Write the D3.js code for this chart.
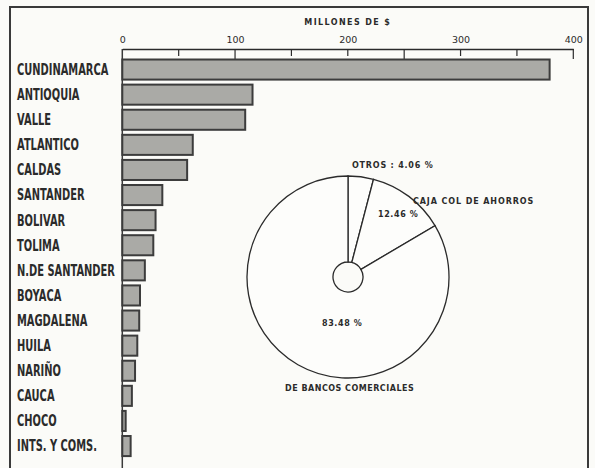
<!DOCTYPE html>
<html>
<head>
<meta charset="utf-8">
<script src="https://cdn.jsdelivr.net/npm/d3@7"></script>
<style>
  html, body { margin: 0; padding: 0; background: #fbfbf8; }
  svg { display: block; }
</style>
</head>
<body>
<svg id="chart" width="595" height="468"></svg>
<script>
// ---- data ----
const categories = ["CUNDINAMARCA", "ANTIOQUIA", "VALLE", "ATLANTICO", "CALDAS", "SANTANDER",
  "BOLIVAR", "TOLIMA", "N.DE SANTANDER", "BOYACA", "MAGDALENA", "HUILA", "NARIÑO",
  "CAUCA", "CHOCO", "INTS. Y COMS."];
const values = [379, 115.5, 109, 62.5, 57.5, 35.5, 29.5, 27.5, 20, 15.7, 15, 13.3, 11.3, 8.5, 3, 7.4];
const tickValues = [0, 100, 200, 300, 400];
const minorTicks = [50, 150, 200, 300, 350];
const majorTicks = [100, 250, 400];
const axisTitle = "MILLONES DE $";

const pieNames = ["OTROS", "CAJA COL DE AHORROS", "DE BANCOS COMERCIALES"];
const pieValues = [4.06, 12.46, 83.48];

// ---- drawing ----
const svg = d3.select("#chart");
const ink = "#2b2b2b";

// frame
svg.append("path")
  .attr("d", "M10,472 L10,7 L588,7 L588,472")
  .attr("fill", "none").attr("stroke", "#3a3a3a").attr("stroke-width", 2);

const x = d3.scaleLinear().domain([0, 400]).range([122.3, 573.3]);
const y = d3.scaleBand().domain(categories).range([57, 458.6]).paddingInner(0.2).paddingOuter(0.1);

// axis title
svg.append("text")
  .attr("x", x(200)).attr("y", 25)
  .attr("text-anchor", "middle")
  .attr("font-family", "DejaVu Sans, sans-serif")
  .attr("font-weight", "bold")
  .attr("font-size", 8)
  .attr("letter-spacing", 1.4)
  .attr("fill", ink)
  .text(axisTitle);

// top axis
const axis = d3.axisTop(x).tickValues(tickValues).tickSize(0).tickPadding(6).tickFormat(d3.format("d"));
const gAxis = svg.append("g").attr("transform", "translate(0,49)").call(axis);
gAxis.select(".domain").attr("stroke", ink).attr("stroke-width", 1.3);
gAxis.selectAll("text")
  .attr("font-family", "DejaVu Sans, sans-serif")
  .attr("font-size", 9.5)
  .attr("fill", ink);

// tick marks (downward)
svg.append("g").selectAll("line").data(minorTicks).join("line")
  .attr("x1", d => x(d)).attr("x2", d => x(d))
  .attr("y1", 49).attr("y2", 56)
  .attr("stroke", ink).attr("stroke-width", 1.2);
svg.append("g").selectAll("line").data(majorTicks).join("line")
  .attr("x1", d => x(d)).attr("x2", d => x(d))
  .attr("y1", 49).attr("y2", 59)
  .attr("stroke", ink).attr("stroke-width", 1.2);

// vertical zero line
svg.append("line")
  .attr("x1", x(0)).attr("x2", x(0))
  .attr("y1", 49).attr("y2", 470)
  .attr("stroke", "#3a3a3a").attr("stroke-width", 1.5);

// bars
svg.append("g").selectAll("rect").data(values).join("rect")
  .attr("x", x(0))
  .attr("y", (d, i) => y(categories[i]))
  .attr("width", d => x(d) - x(0))
  .attr("height", y.bandwidth())
  .attr("fill", "#aaaaa6")
  .attr("stroke", "#3c3c3c")
  .attr("stroke-width", 2);

// category labels (condensed by horizontal scaling)
const sx = 0.66;
svg.append("g").attr("transform", `translate(17,0) scale(${sx},1)`)
  .selectAll("text").data(categories).join("text")
  .attr("x", 0)
  .attr("y", d => y(d) + y.bandwidth() / 2)
  .attr("dy", "0.36em")
  .attr("font-family", "DejaVu Sans, sans-serif")
  .attr("font-weight", "bold")
  .attr("font-size", 15)
  .attr("fill", ink)
  .text(d => d);

// pie
const cx = 348, cy = 277;
const pie = d3.pie().sort(null).startAngle(0).endAngle(2 * Math.PI);
const arcs = pie(pieValues);
const arc = d3.arc().innerRadius(15).outerRadius(101);
const gPie = svg.append("g").attr("transform", `translate(${cx},${cy})`);
gPie.selectAll("path").data(arcs).join("path")
  .attr("d", arc)
  .attr("fill", "#fdfdfb")
  .attr("stroke", ink)
  .attr("stroke-width", 1.3);

const pieFont = (sel) => sel
  .attr("font-family", "DejaVu Sans, sans-serif")
  .attr("font-weight", "bold")
  .attr("font-size", 8)
  .attr("fill", ink);

const fmt = d3.format(".2f");
svg.append("text").attr("x", 352).attr("y", 168).call(pieFont)
  .attr("letter-spacing", 0.8)
  .text(`${pieNames[0]} : ${fmt(pieValues[0])} %`);
svg.append("text").attr("x", 413).attr("y", 204).call(pieFont)
  .attr("letter-spacing", 0.9)
  .text(pieNames[1]);
svg.append("text").attr("x", 378).attr("y", 217).call(pieFont)
  .attr("letter-spacing", 0.6)
  .text(`${fmt(pieValues[1])} %`);
svg.append("text").attr("x", 322).attr("y", 326).call(pieFont)
  .attr("letter-spacing", 0.6)
  .text(`${fmt(pieValues[2])} %`);
svg.append("text").attr("x", 285).attr("y", 391).call(pieFont)
  .attr("letter-spacing", 0.5)
  .text(pieNames[2]);
</script>
</body>
</html>
